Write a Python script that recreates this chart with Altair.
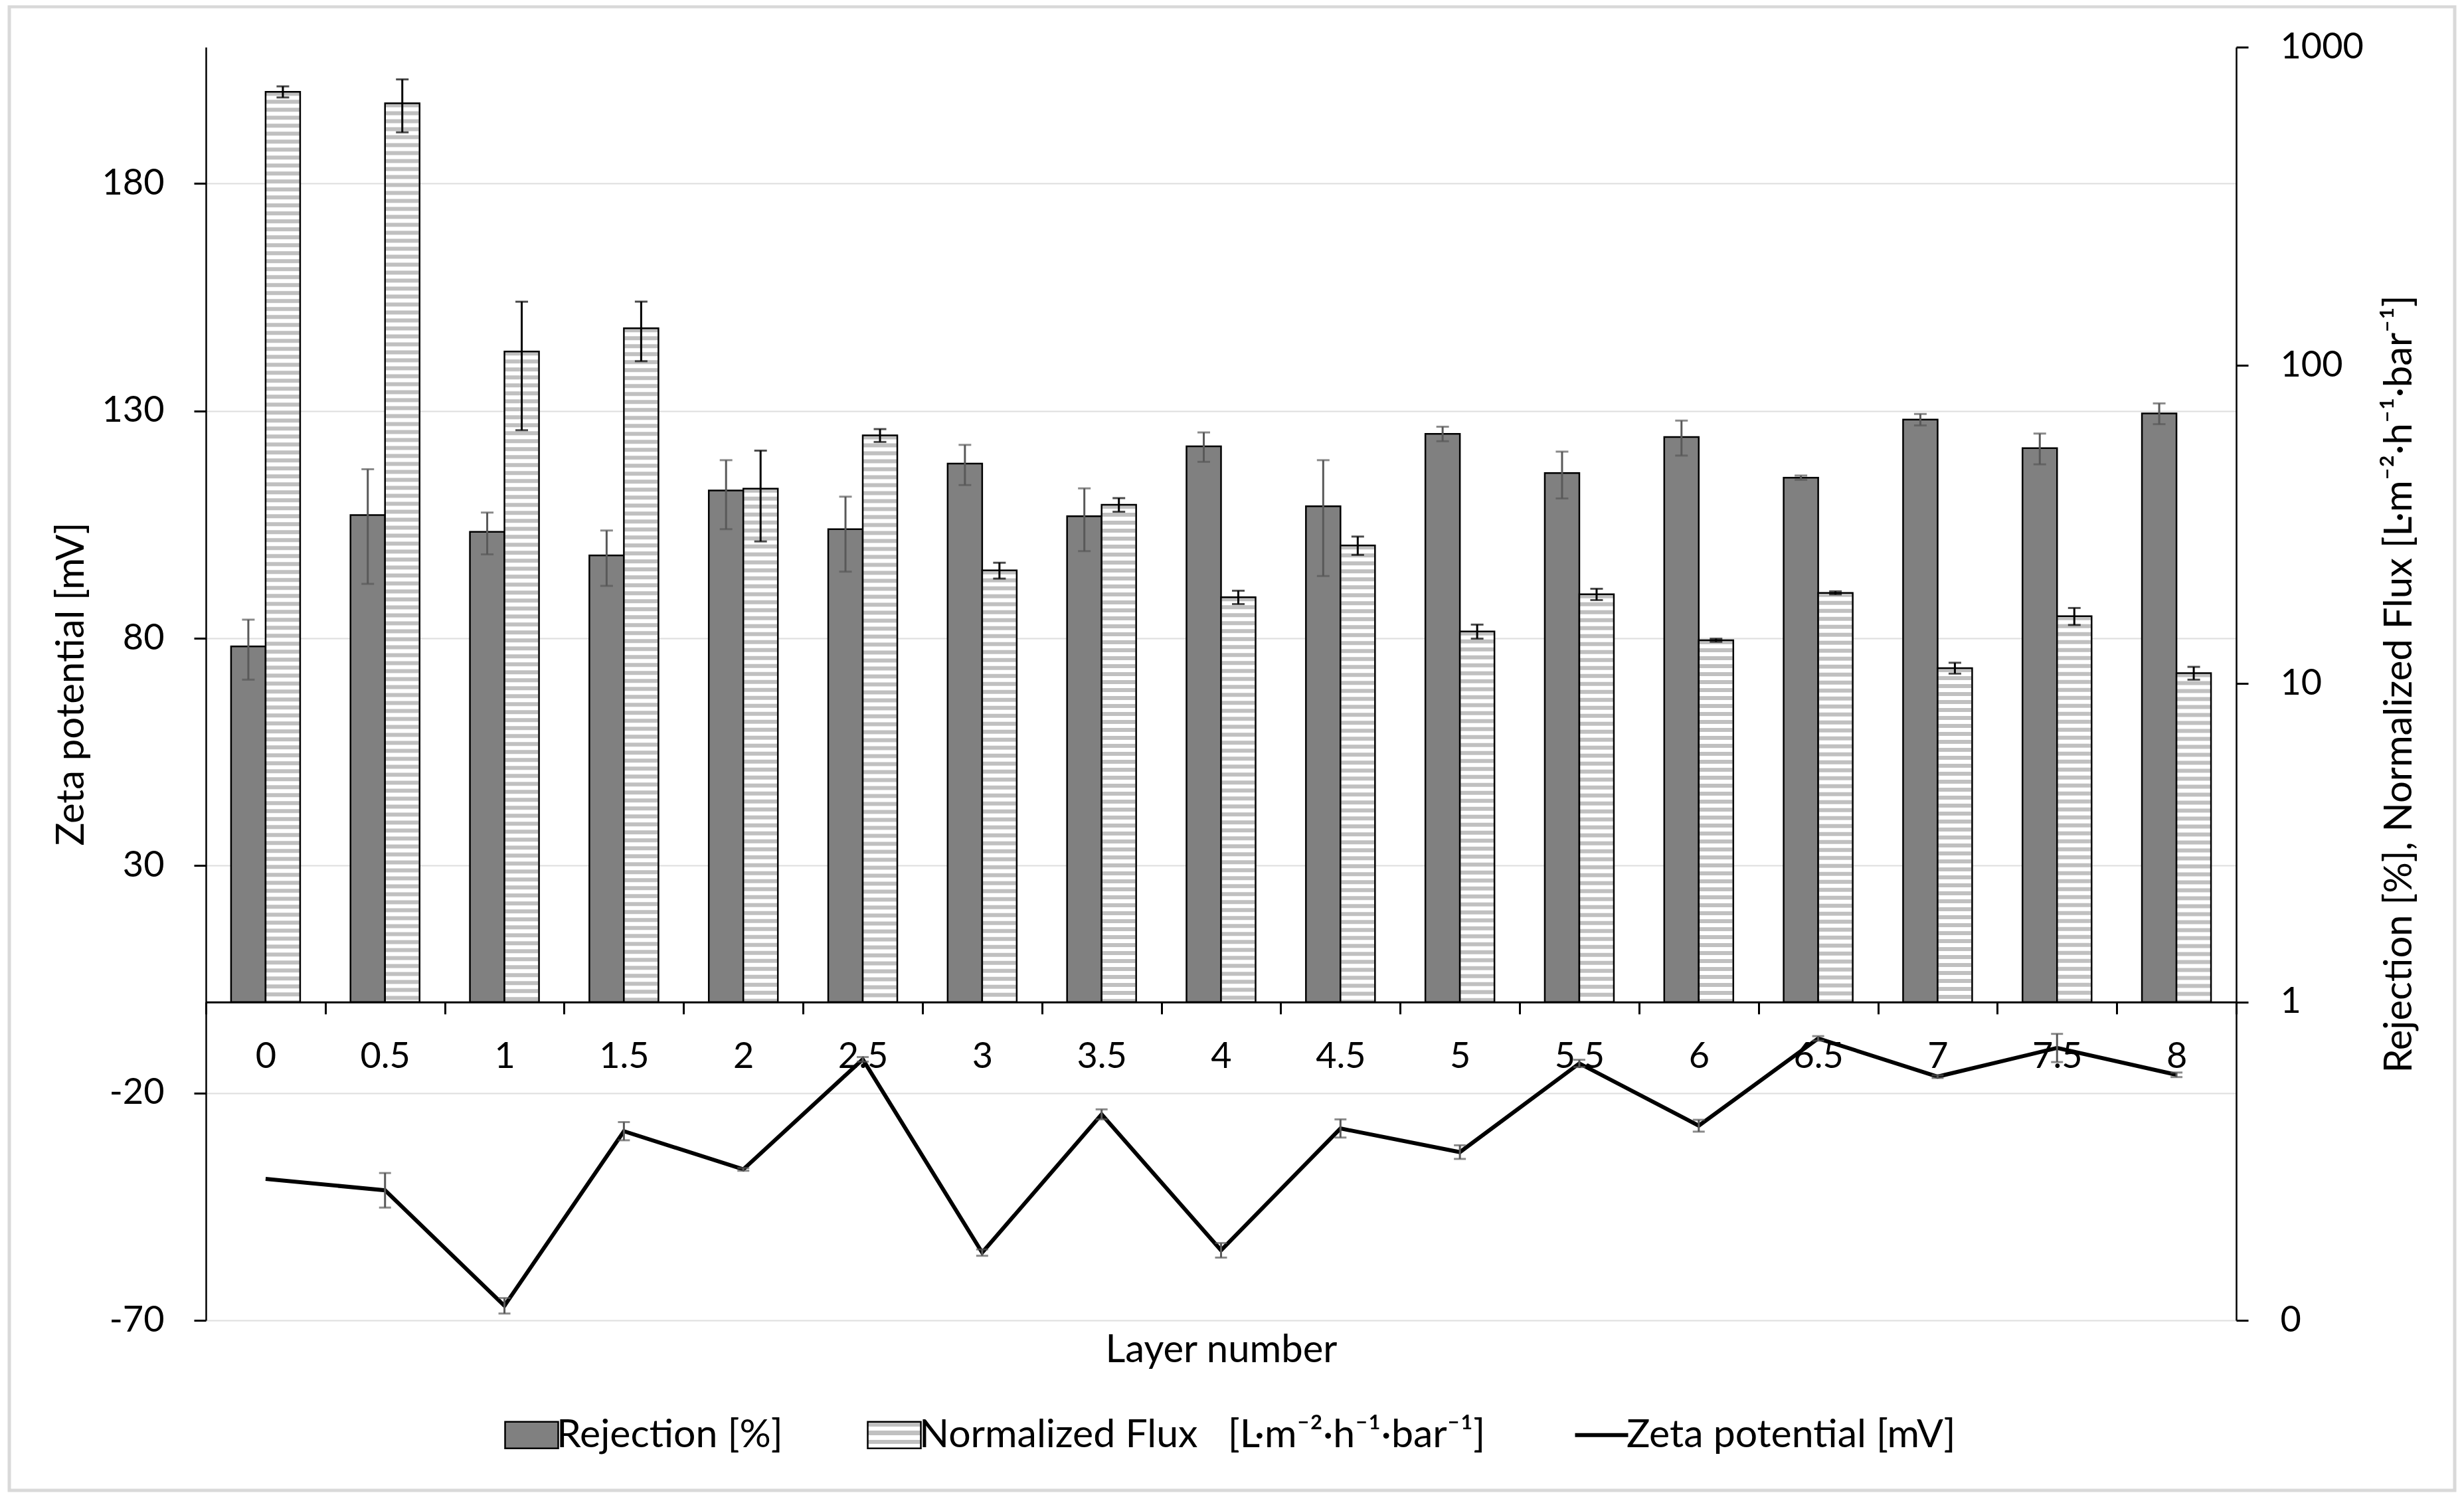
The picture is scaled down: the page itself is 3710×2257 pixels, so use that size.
import altair as alt
import pandas as pd

# ---------------- data ----------------
layer_labels = ["0", "0.5", "1", "1.5", "2", "2.5", "3", "3.5", "4",
                "4.5", "5", "5.5", "6", "6.5", "7", "7.5", "8"]
rejection = [13.1, 33.9, 30.0, 25.3, 40.5, 30.6, 49.2, 33.6, 55.7,
             36.1, 61.0, 45.9, 59.6, 44.4, 67.6, 55.0, 70.7]
rejection_err = [2.8, 13.3, 4.5, 5.0, 9.9, 8.1, 7.1, 7.5, 5.9,
                 14.3, 3.2, 7.7, 7.5, 0.7, 2.8, 6.1, 5.3]
flux = [724, 666, 110.6, 130.9, 41.0, 60.3, 22.7, 36.5, 18.7,
        27.2, 14.6, 19.1, 13.7, 19.3, 11.2, 16.3, 10.8]
flux_err = [29, 126, 48, 27.8, 13.0, 2.8, 1.3, 1.8, 0.9,
            1.8, 0.74, 0.78, 0.15, 0.21, 0.44, 1.0, 0.5]
zeta = [-38.9, -41.4, -66.8, -28.4, -36.8, -12.6, -55.1, -24.7, -54.6,
        -27.8, -33.0, -13.5, -27.2, -8.0, -16.4, -10.1, -16.0]
zeta_err = [0, 3.8, 1.7, 2.0, 0.3, 0.5, 0.7, 1.1, 1.6,
            2.0, 1.5, 0.8, 1.3, 0.5, 0.3, 3.1, 0.5]

left_ticks = [-70, -20, 30, 80, 130, 180]
right_ticks = [0.1, 1, 10, 100, 1000]

R_NAME = "Rejection [%]"
F_NAME = "Normalized Flux\u00a0\u00a0\u00a0[L\u00b7m\u207b\u00b2\u00b7h\u207b\u00b9\u00b7bar\u207b\u00b9]"
Z_NAME = "Zeta potential [mV]"
series_names = [R_NAME, F_NAME, Z_NAME]
right_title = "Rejection [%], Normalized Flux [L\u00b7m\u207b\u00b2\u00b7h\u207b\u00b9\u00b7bar\u207b\u00b9]"

df = pd.DataFrame({
    "layer": layer_labels,
    "rej": rejection,
    "rej_lo": [v - e for v, e in zip(rejection, rejection_err)],
    "rej_hi": [v + e for v, e in zip(rejection, rejection_err)],
    "flux": flux,
    "flux_lo": [v - e for v, e in zip(flux, flux_err)],
    "flux_hi": [v + e for v, e in zip(flux, flux_err)],
    "zeta": zeta,
    "z_err": zeta_err,
    "z_lo": [v - e for v, e in zip(zeta, zeta_err)],
    "z_hi": [v + e for v, e in zip(zeta, zeta_err)],
})
legend_df = pd.DataFrame({"series": series_names})

FONT = "Lato"
W, H = 3057, 1917
ZMIN, ZMAX = -70, 210
zero_offset = -(H - H * (ZMAX - 0) / (ZMAX - ZMIN))
TICK = 18

base = alt.Chart(df)

x_scale = alt.Scale(domain=layer_labels, paddingInner=0, paddingOuter=0)
x_axis = alt.Axis(orient="bottom", offset=zero_offset, tickBand="extent", grid=False,
                  labelAngle=0, labelPadding=38, tickSize=TICK, tickWidth=3,
                  tickColor="black", domainColor="black", domainWidth=3,
                  labelFont=FONT, labelFontSize=54, labelColor="black",
                  title="Layer number", titleFont=FONT, titleFontSize=58,
                  titleFontWeight="normal", titleColor="black",
                  titleX=W / 2, titleY=525, titleAlign="center", titleBaseline="middle")


def xenc():
    return alt.X("layer:N", scale=x_scale, axis=x_axis)


z_scale = alt.Scale(domain=[ZMIN, ZMAX], nice=False, zero=False)
left_axis = alt.Axis(orient="left", values=left_ticks, grid=True, gridColor="#DEDEDE",
                     gridWidth=2, domainColor="black", domainWidth=2.5, tickColor="black",
                     tickWidth=3, tickSize=TICK, labelPadding=45,
                     labelExpr="datum.value < 0 ? '-' + abs(datum.value) : '' + datum.value",
                     labelFont=FONT, labelFontSize=54, labelColor="black",
                     title=Z_NAME, titleFont=FONT, titleFontSize=58, titleFontWeight="normal",
                     titleColor="black", titleAngle=270, titleX=-202, titleY=H / 2,
                     titleAlign="center", titleBaseline="middle")

log_scale = alt.Scale(type="log", domain=[0.1, 1000], nice=False)
right_axis = alt.Axis(orient="right", values=right_ticks, grid=False,
                      domainColor="black", domainWidth=2.5, tickColor="black",
                      tickWidth=3, tickSize=TICK, labelPadding=48,
                      labelExpr="datum.value < 0.5 ? '0' : format(datum.value, 'd')",
                      labelFont=FONT, labelFontSize=54, labelColor="black",
                      title=right_title, titleFont=FONT, titleFontSize=58,
                      titleFontWeight="normal", titleColor="black", titleAngle=270,
                      titleX=246, titleY=H / 2, titleAlign="center", titleBaseline="middle")


def zenc(field):
    return alt.Y(field, type="quantitative", scale=z_scale, axis=left_axis)


def lenc(field):
    return alt.Y(field, type="quantitative", scale=log_scale, axis=right_axis)


# ---------------- legend (driven by an empty layer's stroke scale) ----------------
zt = f"datum.value === '{Z_NAME}'"
rt = f"datum.value === '{R_NAME}'"
grad = ("{gradient: 'linear', x1: 0, y1: 0, x2: 0, y2: 1, stops: ["
        "{offset: 0, color: '#C0C0C0'}, {offset: 0.17, color: '#C0C0C0'},"
        "{offset: 0.17, color: '#FFFFFF'}, {offset: 0.34, color: '#FFFFFF'},"
        "{offset: 0.34, color: '#C0C0C0'}, {offset: 0.5, color: '#C0C0C0'},"
        "{offset: 0.5, color: '#FFFFFF'}, {offset: 0.67, color: '#FFFFFF'},"
        "{offset: 0.67, color: '#C0C0C0'}, {offset: 0.84, color: '#C0C0C0'},"
        "{offset: 0.84, color: '#FFFFFF'}, {offset: 1, color: '#FFFFFF'}]}")
legend = alt.Legend(
    title=None, orient="none", legendX=461, legendY=2060, direction="horizontal",
    symbolSize=6400, padding=0, symbolOpacity=1,
    symbolType=alt.ExprRef(expr=f"{zt} ? 'M-1,0H1' : 'M-1,-0.5H1V0.5H-1Z'"),
    symbolFillColor=alt.ExprRef(expr=f"{rt} ? '#808080' : ({zt} ? 'transparent' : {grad})"),
    symbolStrokeWidth=alt.ExprRef(expr=f"{zt} ? 6 : 2.5"),
    labelFont=FONT, labelFontSize=59, labelColor="black",
    labelLimit=3000, labelOffset=8, columnPadding=122)

legend_layer = alt.Chart(legend_df).transform_filter("false").mark_line().encode(
    color=alt.Color("series:N",
                    scale=alt.Scale(domain=series_names, range=["black", "black", "black"]),
                    legend=legend))

# ---------------- zeta potential (left axis) ----------------
zeta_line = base.mark_line(color="black", strokeWidth=6).encode(
    x=xenc(), y=zenc("zeta"))
zb = base.transform_filter("datum.z_err > 0")
zeta_rule = zb.mark_rule(color="#595959", strokeWidth=3).encode(
    x=xenc(), y=zenc("z_lo"), y2="z_hi:Q")
zeta_cap_lo = zb.mark_tick(color="#595959", thickness=3, size=18).encode(
    x=xenc(), y=zenc("z_lo"))
zeta_cap_hi = zb.mark_tick(color="#595959", thickness=3, size=18).encode(
    x=xenc(), y=zenc("z_hi"))
zeta_group = alt.layer(zeta_line, zeta_rule, zeta_cap_lo, zeta_cap_hi, legend_layer)

# ---------------- bars (right log axis) ----------------
BW = 52
HALF = BW / 2

rej_bar = base.mark_bar(width=BW, xOffset=-HALF, color="#808080", stroke="black",
                        strokeWidth=2.5).encode(
    x=xenc(), y=lenc("rej"), y2=alt.datum(1))
rej_rule = base.mark_rule(color="#595959", strokeWidth=3, xOffset=-HALF).encode(
    x=xenc(), y=lenc("rej_lo"), y2="rej_hi:Q")
rej_cap_lo = base.mark_tick(color="#595959", thickness=3, size=19, xOffset=-HALF).encode(
    x=xenc(), y=lenc("rej_lo"))
rej_cap_hi = base.mark_tick(color="#595959", thickness=3, size=19, xOffset=-HALF).encode(
    x=xenc(), y=lenc("rej_hi"))

flux_fill = base.mark_bar(width=BW, xOffset=HALF, color="white").encode(
    x=xenc(), y=lenc("flux"), y2=alt.datum(1))
flux_stripes = base.mark_rule(color="#C0C0C0", strokeWidth=BW - 2, strokeDash=[6, 6],
                              xOffset=HALF).encode(
    x=xenc(), y=lenc("flux"), y2=alt.datum(1))
flux_outline = base.mark_bar(width=BW, xOffset=HALF, fillOpacity=0, stroke="black",
                             strokeWidth=2.5).encode(
    x=xenc(), y=lenc("flux"), y2=alt.datum(1))
flux_rule = base.mark_rule(color="black", strokeWidth=3, xOffset=HALF).encode(
    x=xenc(), y=lenc("flux_lo"), y2="flux_hi:Q")
flux_cap_lo = base.mark_tick(color="black", thickness=3, size=19, xOffset=HALF).encode(
    x=xenc(), y=lenc("flux_lo"))
flux_cap_hi = base.mark_tick(color="black", thickness=3, size=19, xOffset=HALF).encode(
    x=xenc(), y=lenc("flux_hi"))

frame = alt.Chart(pd.DataFrame({"k": [0]})).mark_rect(
    fill="transparent", stroke="#D9D9D9", strokeWidth=5).encode(
    x=alt.value(-296), x2=alt.value(3386), y=alt.value(-61), y2=alt.value(2173))

bar_group = alt.layer(rej_bar, rej_rule, rej_cap_lo, rej_cap_hi,
                      flux_fill, flux_stripes, flux_outline,
                      flux_rule, flux_cap_lo, flux_cap_hi, frame)

chart = alt.layer(zeta_group, bar_group).resolve_scale(y="independent").properties(
    width=W, height=H,
    padding={"left": 302, "top": 63, "right": 333, "bottom": 260},
    autosize=alt.AutoSizeParams(type="none"),
    background="white",
).configure_view(stroke="transparent")

chart.save("out.html", embed_options={"renderer": "svg", "actions": False})
